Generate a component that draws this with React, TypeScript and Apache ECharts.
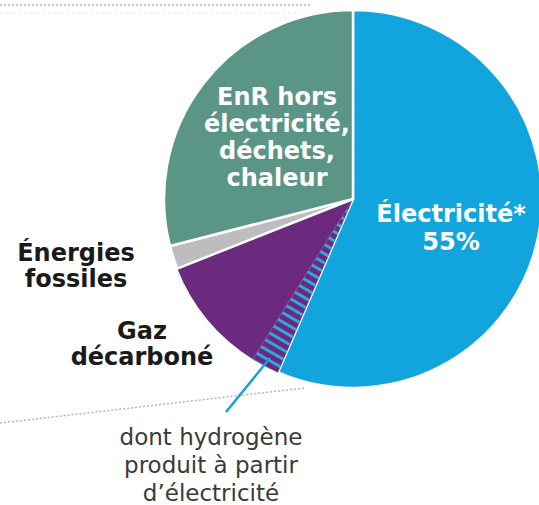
import React, { useEffect, useRef } from "react";
import * as echarts from "echarts";

const sliceNames = ["Électricité", "Hydrogène produit à partir d'électricité", "Gaz décarboné", "Énergies fossiles", "EnR hors électricité, déchets, chaleur"];
const sliceValues = [56.5, 2.4, 10.1, 2, 29];
const sliceColors = ["#12A5DD", "#6B2A7E", "#6B2A7E", "#BDBDBD", "#5B9586"];

const labelEnR = ["EnR hors", "électricité,", "déchets,", "chaleur"];
const labelElec = ["Électricité*", "55%"];
const labelFossil = ["Énergies", "fossiles"];
const labelGaz = ["Gaz", "décarboné"];
const labelNote = ["dont hydrogène", "produit à partir", "d’électricité"];

const FONT = "'DejaVu Sans', Verdana, sans-serif";

export default function App() {
  const ref = useRef<HTMLDivElement>(null);
  useEffect(() => {
    document.body.style.margin = "0";
    if (!ref.current) return;
    const chart = echarts.init(ref.current, null, { renderer: "svg" });
    const data = sliceNames.map((name, i) => {
      const item: any = {
        name,
        value: sliceValues[i],
        itemStyle: {
          color: sliceColors[i],
          borderColor: "#ffffff",
          borderWidth: i === 1 || i === 2 ? 0 : 2.5,
        },
      };
      if (i === 1) {
        item.itemStyle.decal = {
          symbol: "rect",
          symbolSize: 1,
          color: "#2FA8E0",
          dashArrayX: [1, 0],
          dashArrayY: [3, 5],
          rotation: Math.PI / 6,
        };
      }
      return item;
    });
    const txt = (lines: string[], x: number, y: number, size: number, lh: number, color: string, weight: string) => ({
      type: "text",
      x,
      y,
      silent: true,
      style: {
        text: lines.join("\n"),
        fill: color,
        font: `${weight} ${size}px ${FONT}`,
        fontFamily: FONT,
        fontSize: size,
        fontWeight: weight,
        lineHeight: lh,
        align: "center",
        verticalAlign: "middle",
      },
      z: 10,
    });
    chart.setOption({
      animation: false,
      series: [
        {
          type: "pie",
          center: [353, 199],
          radius: 189,
          startAngle: 90,
          clockwise: true,
          data,
          label: { show: false },
          labelLine: { show: false },
          emphasis: { disabled: true },
          silent: true,
        },
      ],
      graphic: [
        { type: "line", shape: { x1: 0, y1: 5, x2: 310, y2: 5 }, style: { stroke: "#b5b5b5", lineWidth: 1.5, lineDash: [2, 2] }, silent: true },
        { type: "line", shape: { x1: 0, y1: 13, x2: 300, y2: 13 }, style: { stroke: "#e6e6e6", lineWidth: 1, lineDash: [3, 3] }, silent: true },
        { type: "line", shape: { x1: 0, y1: 423, x2: 305, y2: 388 }, style: { stroke: "#b5b5b5", lineWidth: 1.5, lineDash: [2, 2] }, silent: true },
        { type: "line", shape: { x1: 270, y1: 358, x2: 226, y2: 412 }, style: { stroke: "#1A9FD8", lineWidth: 2.5 }, silent: true, z: 10 },
        txt(labelEnR, 277, 137, 24, 27, "#ffffff", "bold"),
        txt(labelElec, 451, 228, 24, 28, "#ffffff", "bold"),
        txt(labelFossil, 76, 266, 24, 26, "#1a1a1a", "bold"),
        txt(labelGaz, 142, 344, 24, 26, "#1a1a1a", "bold"),
        txt(labelNote, 211, 465, 23, 28, "#3a3a3a", "normal"),
      ],
    });
    return () => chart.dispose();
  }, []);
  return <div ref={ref} style={{ width: 539, height: 505 }} />;
}
